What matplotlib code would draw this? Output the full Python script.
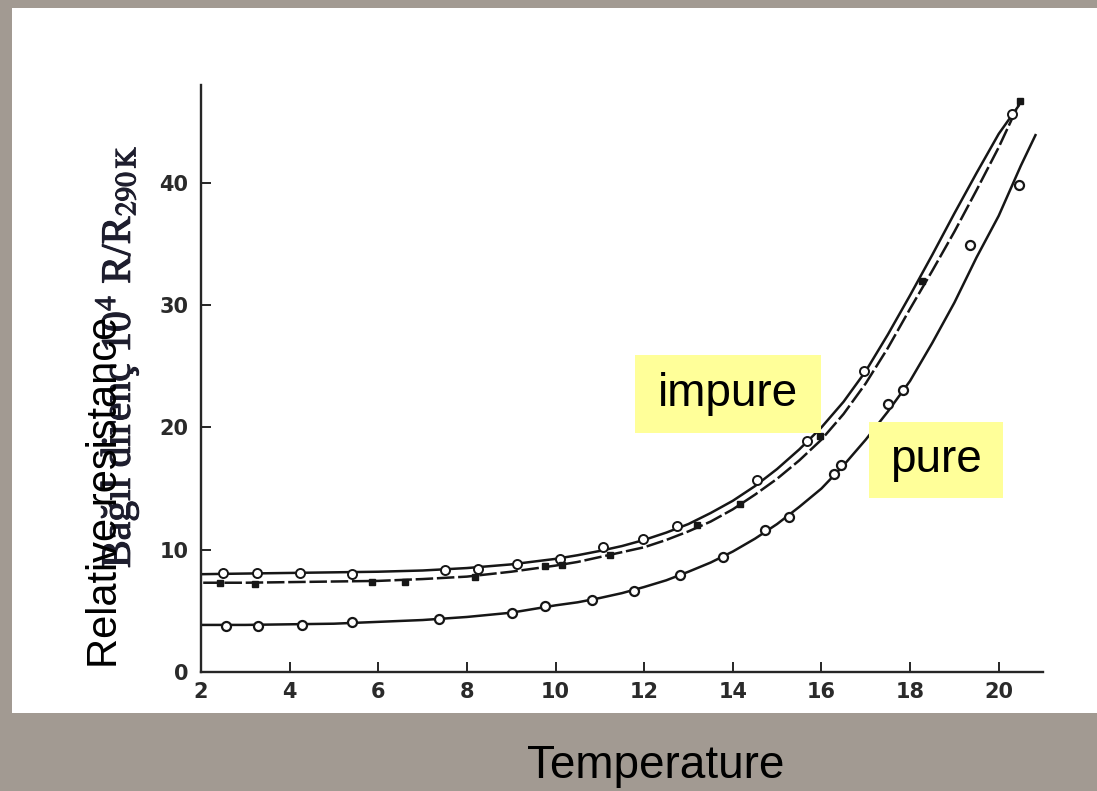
import matplotlib.pyplot as plt
import matplotlib.patheffects as pe
from matplotlib.patches import Rectangle

plt.rcParams['mathtext.fontset'] = 'stix'

W, H = 1097, 791

# krzywe (temperatura, opór względny)
impure_T = [2.05, 3, 4, 5, 6, 7, 8, 9, 10, 10.5, 11, 11.5, 12, 12.5, 13, 13.5, 14, 14.5, 15, 15.5,
            16, 16.5, 17, 17.5, 18, 18.5, 19, 19.5, 20, 20.45]
impure_line = [8.0, 8.05, 8.1, 8.15, 8.2, 8.3, 8.5, 8.8, 9.25, 9.55, 9.9, 10.3, 10.8, 11.4, 12.1, 13.0,
               14.0, 15.2, 16.6, 18.2, 20.0, 22.1, 24.6, 27.6, 30.8, 34.1, 37.5, 40.8, 44.0, 46.3]
impure_dash = [7.3, 7.3, 7.35, 7.4, 7.45, 7.6, 7.8, 8.2, 8.7, 9.0, 9.4, 9.8, 10.2, 10.8, 11.5, 12.3,
               13.3, 14.5, 15.8, 17.3, 19.0, 21.1, 23.6, 26.5, 29.7, 32.8, 36.0, 39.4, 42.9, 46.4]
pure_T = [2.05, 3, 4, 5, 6, 7, 8, 9, 9.5, 10, 10.5, 11, 11.5, 12, 12.5, 13, 13.5, 14, 14.5, 15, 15.5,
          16, 16.5, 17, 17.5, 18, 18.5, 19, 19.5, 20, 20.5, 20.83]
pure_line = [3.85, 3.85, 3.9, 3.95, 4.1, 4.25, 4.5, 4.85, 5.15, 5.45, 5.7, 6.05, 6.45, 6.95, 7.5, 8.2,
             8.95, 9.85, 10.9, 12.1, 13.5, 15.0, 16.9, 19.0, 21.3, 23.8, 26.9, 30.2, 33.9, 37.3, 41.4, 43.9]

# punkty pomiarowe
impure_open_T = [2.5, 3.26, 4.24, 5.4, 7.51, 8.24, 9.13, 10.1, 11.07, 11.98, 12.74, 14.54, 15.67, 16.95, 20.3]
impure_open_R = [8.1, 8.1, 8.1, 8.05, 8.3, 8.45, 8.85, 9.2, 10.2, 10.9, 11.9, 15.7, 18.9, 24.6, 45.6]
impure_full_T = [2.43, 3.22, 5.85, 6.6, 8.18, 9.77, 10.14, 11.23, 13.19, 14.17, 15.97, 18.27, 20.49]
impure_full_R = [7.3, 7.2, 7.4, 7.4, 7.75, 8.7, 8.75, 9.55, 12.0, 13.75, 19.3, 32.0, 46.7]
pure_pts_T = [2.56, 3.29, 4.27, 5.4, 7.36, 9.01, 9.77, 10.82, 11.77, 12.8, 13.78, 14.73, 15.26, 16.29,
              16.44, 17.51, 17.84, 19.36, 20.45]
pure_pts_R = [3.76, 3.76, 3.84, 4.1, 4.35, 4.79, 5.39, 5.88, 6.64, 7.95, 9.4, 11.6, 12.7, 16.2, 16.9,
              21.9, 23.1, 34.9, 39.8]

x_ticks = [2, 4, 6, 8, 10, 12, 14, 16, 18, 20]
y_ticks = [0, 10, 20, 30, 40]


def fx(x):
    return x / W


def fy(y):
    return 1 - y / H


fig = plt.figure(figsize=(W / 100, H / 100), dpi=100, facecolor='#a29a92')
# biały skan
fig.patches.append(Rectangle((fx(12), fy(713)), fx(1097) - fx(12), fy(8) - fy(713),
                             transform=fig.transFigure, facecolor='white', edgecolor='none', zorder=-1))

ax = fig.add_axes([fx(201), fy(672), fx(1043) - fx(201), fy(85) - fy(672)])
ax.set_facecolor('none')
ink = '#161616'

ax.plot(impure_T, impure_line, color=ink, lw=1.8)
ax.plot(impure_T, impure_dash, color=ink, lw=1.8, ls=(0, (7, 1.5)))
ax.plot(pure_T, pure_line, color=ink, lw=1.8)

ax.plot(impure_open_T, impure_open_R, 'o', ms=6.5, mfc='white', mec=ink, mew=1.4)
ax.plot(impure_full_T, impure_full_R, 's', ms=5, mfc=ink, mec=ink)
ax.plot(pure_pts_T, pure_pts_R, 'o', ms=6.5, mfc='white', mec=ink, mew=1.6)

ax.set_xlim(2, 21)
ax.set_ylim(0, 48)
ax.set_xticks(x_ticks)
ax.set_yticks(y_ticks)
for s in ['top', 'right']:
    ax.spines[s].set_visible(False)
for s in ['left', 'bottom']:
    ax.spines[s].set_color('#262626')
    ax.spines[s].set_linewidth(1.7)
ax.tick_params(direction='in', length=7, width=1.4, color='#262626', labelsize=15, labelcolor='#2a2a2a')
ax.tick_params(axis='y', pad=9)
ax.tick_params(axis='x', pad=7)
for lab in ax.get_xticklabels() + ax.get_yticklabels():
    lab.set_fontfamily('DejaVu Sans')
    lab.set_fontweight('bold')

# etykieta z oryginalnego skanu
fig.text(fx(117), fy(357), 'Bağıl direnç 10$^{4}$ R/R$_{\\mathrm{290\\,K}}$', rotation=90,
         ha='center', va='center', fontsize=30, family=['Liberation Serif', 'DejaVu Serif'], color='#1e1e2e',
         path_effects=[pe.withStroke(linewidth=0.8, foreground='#1e1e2e')])
fig.text(fx(106), fy(492), 'Relative resistance', rotation=90, ha='center', va='center',
         fontsize=30, family='Liberation Sans', color='black')
fig.text(fx(656), fy(766), 'Temperature', ha='center', va='center', fontsize=33,
         family='Liberation Sans', color='black')

# żółte etykiety
for (x0, y0, x1, y1, txt) in [(635, 355, 821, 433, 'impure'), (869, 422, 1003, 498, 'pure')]:
    fig.patches.append(Rectangle((fx(x0), fy(y1)), fx(x1) - fx(x0), fy(y0) - fy(y1),
                                 transform=fig.transFigure, facecolor='#ffff99', edgecolor='none', zorder=2))
    fig.text(fx((x0 + x1) / 2), fy((y0 + y1) / 2), txt, ha='center', va='center', fontsize=33,
             family='Liberation Sans', color='black', zorder=3)

fig.savefig('out.png', dpi=100, facecolor=fig.get_facecolor())
